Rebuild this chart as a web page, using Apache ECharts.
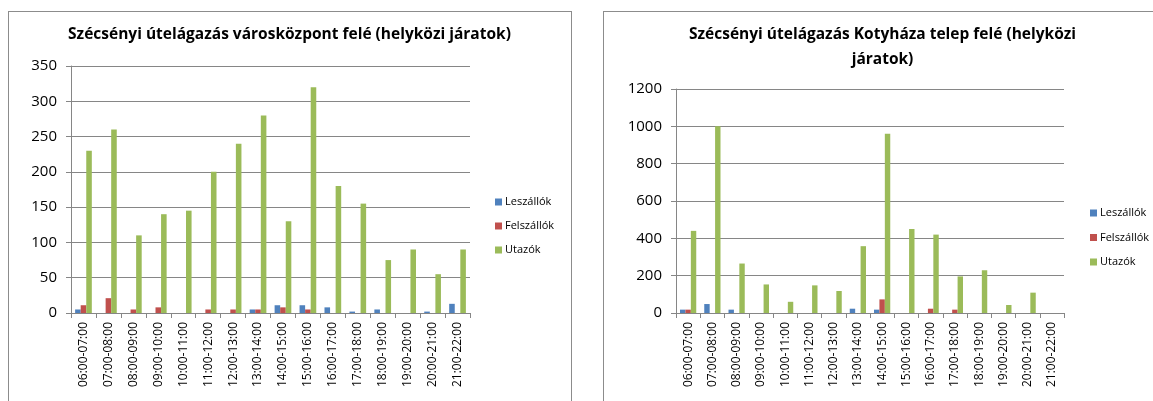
<!DOCTYPE html>
<html>
<head>
<meta charset="utf-8">
<script src="https://cdn.jsdelivr.net/npm/echarts@6/dist/echarts.min.js"></script>
<style>
html,body{margin:0;padding:0;background:#fff;width:1153px;height:401px;overflow:hidden;position:relative;}
.box{position:absolute;border:1px solid #8c8c8c;box-sizing:border-box;}
.chart{position:absolute;}
</style>
</head>
<body>
<div class="box" style="left:8px;top:11px;width:564px;height:420px;"></div>
<div class="box" style="left:603px;top:11px;width:600px;height:420px;"></div>
<div id="c1" class="chart" style="left:9px;top:12px;width:561px;height:389px;"></div>
<div id="c2" class="chart" style="left:604px;top:12px;width:557px;height:389px;"></div>
<script>
const categories = ['06:00-07:00','07:00-08:00','08:00-09:00','09:00-10:00','10:00-11:00','11:00-12:00','12:00-13:00','13:00-14:00','14:00-15:00','15:00-16:00','16:00-17:00','17:00-18:00','18:00-19:00','19:00-20:00','20:00-21:00','21:00-22:00'];
const seriesNames = ['Leszállók','Felszállók','Utazók'];

const title1 = 'Szécsényi útelágazás városközpont felé (helyközi járatok)';
const leszallok1 = [5,0,0,0,0,0,0,5,11,11,8,2,5,0,2,13];
const felszallok1 = [11,21,5,8,0,5,5,5,8,5,0,0,0,0,0,0];
const utazok1 = [230,260,110,140,145,200,240,280,130,320,180,155,75,90,55,90];
const yTicks1 = {min:0, max:350, interval:50};

const title2 = 'Szécsényi útelágazás Kotyháza telep felé (helyközi\njáratok)';
const leszallok2 = [18,48,18,0,0,0,0,23,18,0,0,0,0,0,0,0];
const felszallok2 = [18,0,0,0,0,0,0,0,73,0,23,18,0,0,0,0];
const utazok2 = [440,1000,265,153,60,148,118,358,960,450,420,196,229,43,109,0];
const yTicks2 = {min:0, max:1200, interval:200};

const colors = ['#4F81BD','#C0504D','#9BBB59'];
const FONT = '"Open Sans", "Noto Sans", sans-serif';
const GRAY = '#868686';

function makeOption(title, data, yTicks, grid, legendPos) {
  return {
    animation: false,
    color: colors,
    textStyle: {fontFamily: FONT},
    title: {
      text: title, left: 'center', top: 10.5, padding: 0,
      textStyle: {fontFamily: FONT, fontSize: 15.5, fontWeight: 'bold', color: '#000', lineHeight: 25}
    },
    legend: {
      orient: 'vertical', left: legendPos.left, top: legendPos.top,
      itemWidth: 7, itemHeight: 7, itemGap: legendPos.gap, icon: 'rect',
      textStyle: {fontFamily: FONT, fontSize: 11, color: '#000', lineHeight: 14, padding: [0,0,0,-2]},
      data: seriesNames
    },
    grid: grid,
    xAxis: {
      type: 'category', data: categories,
      axisLine: {lineStyle: {color: GRAY, width: 1}},
      axisTick: {show: true, length: 5, lineStyle: {color: GRAY}},
      axisLabel: {rotate: 90, fontSize: 12, color: '#000', margin: 9, fontFamily: FONT, interval: 0}
    },
    yAxis: {
      type: 'value', min: yTicks.min, max: yTicks.max, interval: yTicks.interval,
      axisLine: {show: true, lineStyle: {color: GRAY, width: 1}},
      axisTick: {show: true, length: 5, lineStyle: {color: GRAY}},
      splitLine: {lineStyle: {color: GRAY, width: 1}},
      axisLabel: {fontSize: 15, color: '#000', margin: 14, fontFamily: FONT,
        formatter: v => String(v)}
    },
    series: data.map((d, i) => ({
      name: seriesNames[i], type: 'bar', data: d,
      barGap: '0%', barCategoryGap: '33%'
    }))
  };
}

const ch1 = echarts.init(document.getElementById('c1'), null, {renderer: 'canvas'});
ch1.setOption(makeOption(title1, [leszallok1, felszallok1, utazok1], yTicks1,
  {left: 62, top: 54, width: 399, height: 247},
  {left: 481, top: 178, gap: 10}));

const ch2 = echarts.init(document.getElementById('c2'), null, {renderer: 'canvas'});
ch2.setOption(makeOption(title2, [leszallok2, felszallok2, utazok2], yTicks2,
  {left: 72, top: 77, width: 388, height: 224},
  {left: 481, top: 189, gap: 10.5}));
</script>
</body>
</html>
